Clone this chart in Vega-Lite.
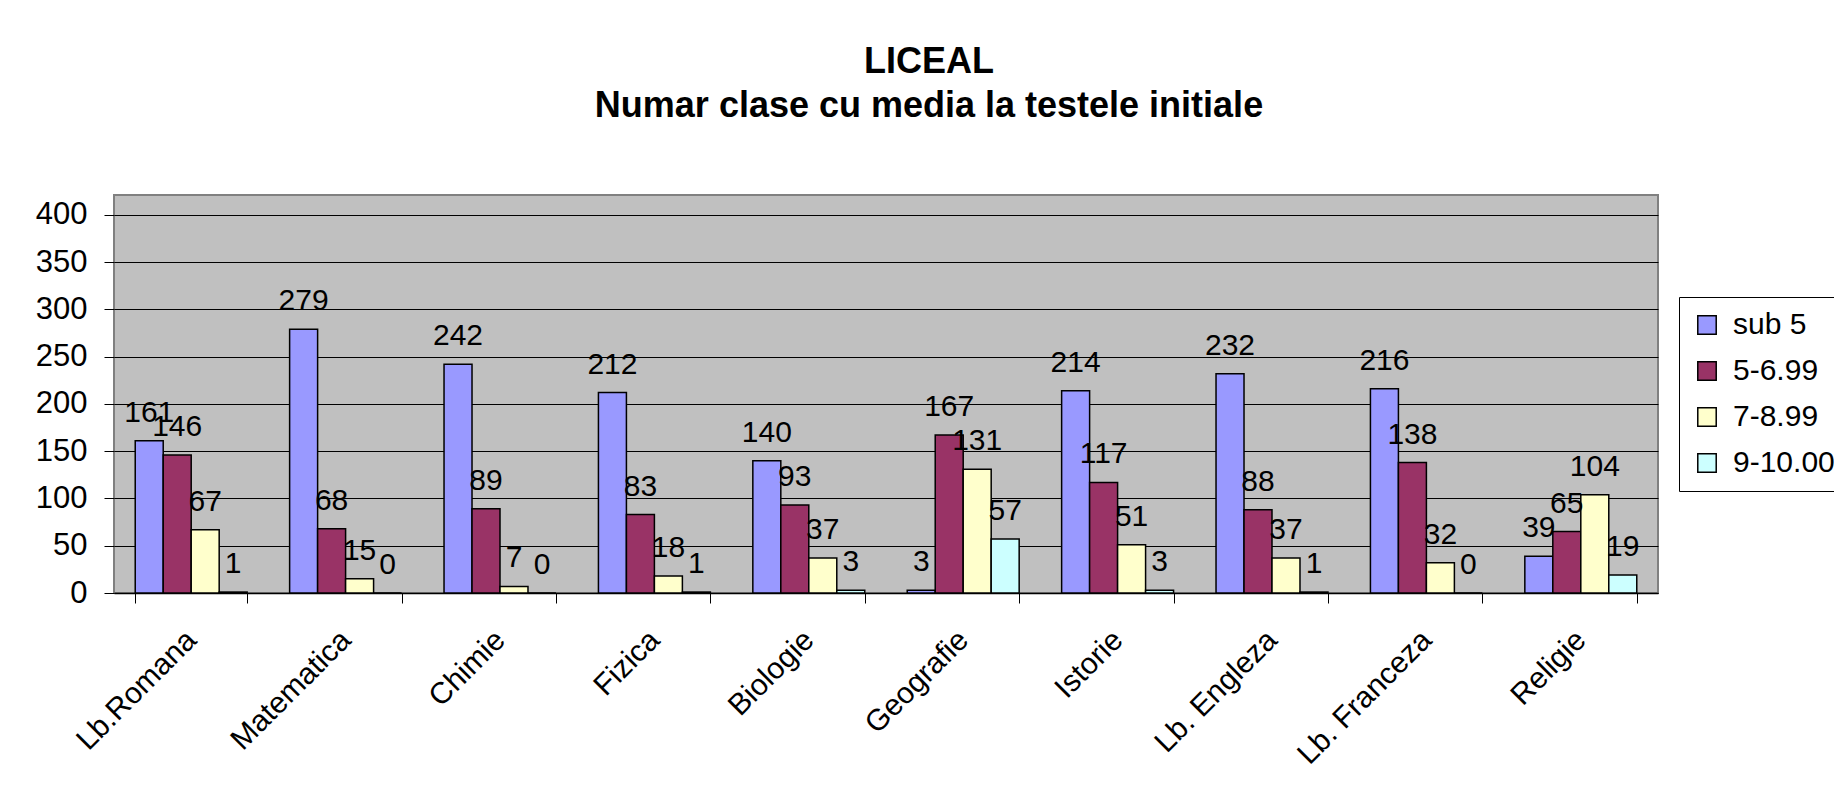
{
  "$schema": "https://vega.github.io/schema/vega-lite/v6.json",
  "width": 1544,
  "height": 398,
  "autosize": {"type": "none"},
  "padding": {"left": 114, "top": 195, "right": 176, "bottom": 203},
  "background": "white",
  "config": {
    "font": "Liberation Sans",
    "view": {"fill": "#C0C0C0", "stroke": "#808080", "strokeWidth": 2}
  },
  "title": {
    "text": ["LICEAL", "Numar clase cu media la testele initiale"],
    "fontSize": 36,
    "font": "Liberation Sans",
    "fontWeight": "bold",
    "lineHeight": 44,
    "anchor": "middle",
    "baseline": "alphabetic",
    "offset": 42,
    "dx": 43,
    "color": "black"
  },
  "data": {
    "values": [
      {"subject": "Lb.Romana", "series": "sub 5", "value": 161},
      {"subject": "Lb.Romana", "series": "5-6.99", "value": 146},
      {"subject": "Lb.Romana", "series": "7-8.99", "value": 67},
      {"subject": "Lb.Romana", "series": "9-10.00", "value": 1},
      {"subject": "Matematica", "series": "sub 5", "value": 279},
      {"subject": "Matematica", "series": "5-6.99", "value": 68},
      {"subject": "Matematica", "series": "7-8.99", "value": 15},
      {"subject": "Matematica", "series": "9-10.00", "value": 0},
      {"subject": "Chimie", "series": "sub 5", "value": 242},
      {"subject": "Chimie", "series": "5-6.99", "value": 89},
      {"subject": "Chimie", "series": "7-8.99", "value": 7},
      {"subject": "Chimie", "series": "9-10.00", "value": 0},
      {"subject": "Fizica", "series": "sub 5", "value": 212},
      {"subject": "Fizica", "series": "5-6.99", "value": 83},
      {"subject": "Fizica", "series": "7-8.99", "value": 18},
      {"subject": "Fizica", "series": "9-10.00", "value": 1},
      {"subject": "Biologie", "series": "sub 5", "value": 140},
      {"subject": "Biologie", "series": "5-6.99", "value": 93},
      {"subject": "Biologie", "series": "7-8.99", "value": 37},
      {"subject": "Biologie", "series": "9-10.00", "value": 3},
      {"subject": "Geografie", "series": "sub 5", "value": 3},
      {"subject": "Geografie", "series": "5-6.99", "value": 167},
      {"subject": "Geografie", "series": "7-8.99", "value": 131},
      {"subject": "Geografie", "series": "9-10.00", "value": 57},
      {"subject": "Istorie", "series": "sub 5", "value": 214},
      {"subject": "Istorie", "series": "5-6.99", "value": 117},
      {"subject": "Istorie", "series": "7-8.99", "value": 51},
      {"subject": "Istorie", "series": "9-10.00", "value": 3},
      {"subject": "Lb. Engleza", "series": "sub 5", "value": 232},
      {"subject": "Lb. Engleza", "series": "5-6.99", "value": 88},
      {"subject": "Lb. Engleza", "series": "7-8.99", "value": 37},
      {"subject": "Lb. Engleza", "series": "9-10.00", "value": 1},
      {"subject": "Lb. Franceza", "series": "sub 5", "value": 216},
      {"subject": "Lb. Franceza", "series": "5-6.99", "value": 138},
      {"subject": "Lb. Franceza", "series": "7-8.99", "value": 32},
      {"subject": "Lb. Franceza", "series": "9-10.00", "value": 0},
      {"subject": "Religie", "series": "sub 5", "value": 39},
      {"subject": "Religie", "series": "5-6.99", "value": 65},
      {"subject": "Religie", "series": "7-8.99", "value": 104},
      {"subject": "Religie", "series": "9-10.00", "value": 19}
    ]
  },
  "encoding": {
    "x": {
      "field": "subject",
      "type": "nominal",
      "sort": null,
      "scale": {"paddingInner": 0.275, "paddingOuter": 0.1375},
      "axis": {
        "title": null,
        "labelAngle": -45,
        "labelAlign": "right",
        "labelBaseline": "middle",
        "labelFontSize": 30,
        "labelColor": "black",
        "labelPadding": 32,
        "tickBand": "extent",
        "tickSize": 10,
        "tickColor": "black",
        "tickWidth": 1,
        "domainColor": "black",
        "domainWidth": 1.5,
        "grid": false
      }
    },
    "xOffset": {
      "field": "series",
      "type": "nominal",
      "sort": ["sub 5", "5-6.99", "7-8.99", "9-10.00"],
      "scale": {"paddingInner": 0, "paddingOuter": 0}
    },
    "y": {
      "field": "value",
      "type": "quantitative",
      "scale": {"domain": [0, 421], "nice": false, "zero": true},
      "axis": {
        "title": null,
        "values": [0, 50, 100, 150, 200, 250, 300, 350, 400],
        "grid": true,
        "gridColor": "black",
        "gridWidth": 1,
        "gridOpacity": 1,
        "domain": false,
        "tickSize": 10,
        "tickColor": "black",
        "labelFontSize": 31,
        "labelColor": "black",
        "labelPadding": 17
      }
    }
  },
  "layer": [
    {
      "mark": {"type": "bar", "stroke": "black", "strokeWidth": 1.5},
      "encoding": {
        "color": {
          "field": "series",
          "type": "nominal",
          "scale": {
            "domain": ["sub 5", "5-6.99", "7-8.99", "9-10.00"],
            "range": ["#9999FF", "#993366", "#FFFFCC", "#CCFFFF"]
          },
          "legend": {
            "title": null,
            "orient": "none",
            "legendX": 1565,
            "legendY": 102,
            "labelFontSize": 30,
            "labelColor": "black",
            "labelOffset": 11,
            "symbolType": "square",
            "symbolSize": 340,
            "symbolStrokeColor": "black",
            "symbolStrokeWidth": 1.5,
            "strokeColor": "black",
            "fillColor": "white",
            "padding": 13,
            "rowPadding": 16
          }
        }
      }
    },
    {
      "mark": {"type": "text", "baseline": "alphabetic", "align": "center", "dy": -19, "fontSize": 30, "color": "black"},
      "encoding": {
        "text": {"field": "value", "type": "quantitative"}
      }
    }
  ]
}
